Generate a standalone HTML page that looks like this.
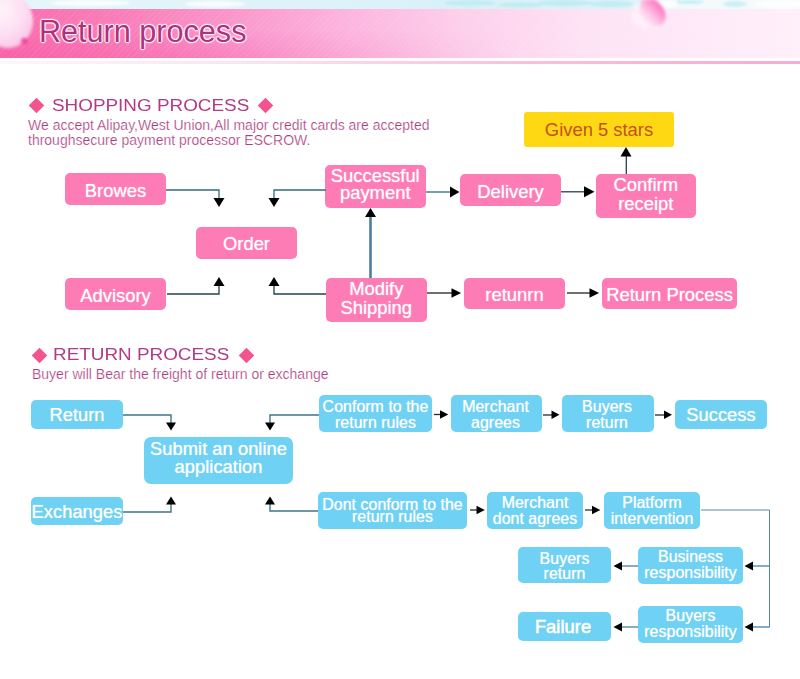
<!DOCTYPE html>
<html><head><meta charset="utf-8">
<style>
html,body{margin:0;padding:0;background:#fff;}
body{width:800px;height:679px;position:relative;overflow:hidden;font-family:"Liberation Sans",sans-serif;}
.abs{position:absolute;}
#top{left:0;top:0;width:800px;height:10px;background:linear-gradient(90deg,#e6f5fa 0%,#def3f9 35%,#d8f1f8 55%,#dcf3f8 78%,#f2fafc 86%,#f6fbfd 100%);}
#band{left:0;top:9px;width:800px;height:49px;background:linear-gradient(90deg,#f96cae 0%,#f97cb8 14%,#fa92c8 27%,#fcb2dd 42%,#fdd0ec 58%,#fee3f5 74%,#feeaf8 88%,#fff0fa 100%);}
#band2{left:0;top:30px;width:800px;height:28px;background:linear-gradient(to bottom,rgba(247,70,155,0),rgba(247,70,155,.28));-webkit-mask-image:linear-gradient(90deg,#000 0%,#000 20%,transparent 65%);mask-image:linear-gradient(90deg,#000 0%,#000 20%,transparent 65%);}
#band3{left:0;top:9px;width:800px;height:49px;background:repeating-linear-gradient(135deg,rgba(255,255,255,0) 0px,rgba(255,255,255,0) 3px,rgba(255,255,255,.07) 3px,rgba(255,255,255,.07) 4px);}
#uline{left:0;top:61px;width:800px;height:2.500px;background:linear-gradient(90deg,rgba(246,176,216,.12) 0%,rgba(246,176,216,.35) 30%,rgba(246,176,216,.8) 65%,rgba(245,170,214,1) 100%);}
#title{left:39px;top:12px;font-size:30.600px;line-height:38px;color:#b0307c;white-space:nowrap;
 text-shadow:0 0 2px #fff,0 0 2px #fff,1px 0 1px #fff,-1px 0 1px #fff,0 1px 1px #fff,0 -1px 1px #fff;}
.h{font-size:16px;line-height:18px;color:#b23a86;white-space:nowrap;transform-origin:0 0;transform:scaleX(1.18);}
.p{font-size:14px;line-height:15.600px;color:#ab3c80;white-space:nowrap;-webkit-text-stroke:.220px #fff;}
.dia{width:11px;height:11px;background:#f2548f;transform:rotate(45deg);}
.b{display:flex;align-items:center;justify-content:center;text-align:center;color:#fff;border-radius:5px;white-space:nowrap;box-sizing:border-box;}
.pk{background:#fe7cb6;font-size:18.400px;line-height:19px;text-shadow:0 0 1px rgba(255,255,255,.7);padding-top:2px;}
.pk2{line-height:17px;padding-top:0;padding-bottom:4px;}
.bl{background:#6fd1f3;font-size:16px;line-height:15.400px;text-shadow:0 0 1px rgba(255,255,255,.7);padding-top:2.600px;}
.big{font-size:18.400px;line-height:17.600px;padding-top:1.500px;}
.big2{padding-top:0;padding-bottom:5px;}
.yl{background:#ffd814;color:#c4511f;font-size:18.400px;border-radius:3px;}
</style></head><body>
<div id="top" class="abs"></div>
<div id="band" class="abs"></div>
<div id="band2" class="abs"></div>
<div id="band3" class="abs"></div>
<div id="uline" class="abs"></div>
<svg class="abs" style="left:0;top:0" width="800" height="64" viewBox="0 0 800 64">
<defs>
<filter id="bl1" x="-30%" y="-30%" width="160%" height="160%"><feGaussianBlur stdDeviation="1.6"/></filter>
<filter id="bl2" x="-30%" y="-30%" width="160%" height="160%"><feGaussianBlur stdDeviation="2.2"/></filter>
<filter id="bl3" x="-30%" y="-30%" width="160%" height="160%"><feGaussianBlur stdDeviation="1"/></filter>
<radialGradient id="pg1" cx="35%" cy="30%" r="75%"><stop offset="0" stop-color="#fff4fb"/><stop offset=".6" stop-color="#fddff3"/><stop offset="1" stop-color="#fbc8e8"/></radialGradient>
<linearGradient id="pg2" x1="1" y1="0" x2="0" y2="1"><stop offset="0" stop-color="#ff6cba"/><stop offset=".3" stop-color="#ff86c8"/><stop offset=".55" stop-color="#fdbfe3"/><stop offset=".8" stop-color="#feeaf7"/><stop offset="1" stop-color="#fff4fb"/></linearGradient>
</defs>
<!-- cyan texture in top strip -->
<g filter="url(#bl3)" fill="#aee5ef" opacity=".55">
 <ellipse cx="470" cy="3" rx="26" ry="2.500"/><ellipse cx="520" cy="5" rx="22" ry="2.500"/><ellipse cx="565" cy="3" rx="28" ry="3"/>
 <ellipse cx="612" cy="4" rx="22" ry="3"/><ellipse cx="690" cy="2" rx="14" ry="2"/><ellipse cx="735" cy="4" rx="12" ry="3"/>
</g>
<g filter="url(#bl3)" fill="#fff" opacity=".8">
 <ellipse cx="90" cy="3" rx="40" ry="3"/><ellipse cx="215" cy="4" rx="30" ry="3"/><ellipse cx="780" cy="4" rx="25" ry="4"/><ellipse cx="668" cy="4" rx="10" ry="4"/>
</g>
<!-- left petal -->
<ellipse cx="8" cy="21" rx="25" ry="27" fill="url(#pg1)" filter="url(#bl1)"/>
<ellipse cx="24.500" cy="41" rx="3.500" ry="3" fill="#f23a98" filter="url(#bl1)" opacity=".9"/>
<!-- right petal -->
<ellipse cx="647" cy="15" rx="15" ry="13" fill="#fff3fa" opacity=".85" filter="url(#bl2)"/>
<path d="M642 0C638 8 638 21 651 26C661 28 668 22 665 12C663 6 658 1 653 -1Z" fill="url(#pg2)" filter="url(#bl1)"/>
</svg>
<div id="title" class="abs">Return process</div>

<!-- SHOPPING -->
<div class="abs dia" style="left:31px;top:100px"></div>
<div class="abs h" style="left:52px;top:97px">SHOPPING PROCESS</div>
<div class="abs dia" style="left:260px;top:100px"></div>
<div class="abs p" style="left:28px;top:117.500px">We accept Alipay,West Union,All major credit cards are accepted<br>throughsecure payment processor ESCROW.</div>

<div class="abs b yl" style="left:524px;top:112px;width:150px;height:35px">Given 5 stars</div>
<div class="abs b pk" style="left:65px;top:173px;width:101px;height:32px">Browes</div>
<div class="abs b pk" style="padding-top:0;left:196px;top:227px;width:101px;height:32px">Order</div>
<div class="abs b pk" style="left:65px;top:278px;width:101px;height:32px">Advisory</div>
<div class="abs b pk pk2" style="left:325px;top:165px;width:100.500px;height:42.500px">Successful<br>payment</div>
<div class="abs b pk pk2" style="line-height:18.400px;padding-bottom:3px;left:326px;top:278px;width:100.500px;height:44.300px">Modify<br>Shipping</div>
<div class="abs b pk" style="left:460px;top:174px;width:101px;height:32px">Delivery</div>
<div class="abs b pk" style="left:464px;top:278px;width:101px;height:31px">retunrn</div>
<div class="abs b pk pk2" style="line-height:19px;padding-bottom:3px;left:595.800px;top:174px;width:100px;height:43.600px">Confirm<br>receipt</div>
<div class="abs b pk" style="left:602px;top:278px;width:135px;height:31px">Return Process</div>

<!-- RETURN -->
<div class="abs dia" style="left:33.500px;top:349.500px"></div>
<div class="abs h" style="left:53px;top:346.400px">RETURN PROCESS</div>
<div class="abs dia" style="left:240.800px;top:349.500px"></div>
<div class="abs p" style="left:32px;top:366.800px">Buyer will Bear the freight of return or exchange</div>

<div class="abs b bl big" style="left:31px;top:400px;width:92px;height:29px">Return</div>
<div class="abs b bl big" style="left:31px;top:497px;width:92px;height:28px">Exchanges</div>
<div class="abs b bl big big2" style="left:144px;top:437px;width:149px;height:47px;border-radius:7px">Submit an online<br>application</div>
<div class="abs b bl" style="left:319px;top:395px;width:113px;height:37px">Conform to the<br>return rules</div>
<div class="abs b bl" style="padding-right:2px;left:451px;top:395px;width:91px;height:37px">Merchant<br>agrees</div>
<div class="abs b bl" style="padding-right:2px;left:562px;top:395px;width:92px;height:37px">Buyers<br>return</div>
<div class="abs b bl big" style="left:675px;top:400px;width:92px;height:29px">Success</div>
<div class="abs b bl" style="padding-top:1.600px;line-height:12px;left:318px;top:492.400px;width:149px;height:36.400px">Dont conform to the<br>return rules</div>
<div class="abs b bl" style="padding-top:0;left:487px;top:492px;width:96px;height:37px">Merchant<br>dont agrees</div>
<div class="abs b bl" style="padding-top:0;left:604px;top:492px;width:96px;height:37px">Platform<br>intervention</div>
<div class="abs b bl" style="padding-top:2px;left:518px;top:547px;width:93px;height:36px">Buyers<br>return</div>
<div class="abs b bl" style="padding-top:0;padding-bottom:1.400px;left:638px;top:547px;width:105px;height:36.500px">Business<br>responsibility</div>
<div class="abs b bl big" style="padding-right:3px;-webkit-text-stroke:.350px #fff;left:518px;top:612px;width:93px;height:29px">Failure</div>
<div class="abs b bl" style="padding-top:0;padding-bottom:1.400px;left:638px;top:606px;width:105px;height:36.500px">Buyers<br>responsibility</div>

<svg class="abs" style="left:0;top:0" width="800" height="679" viewBox="0 0 800 679">
<!-- pink section thin lines -->
<g fill="none" stroke="#336b7e" stroke-width="1.300">
 <path d="M166 190H219V199"/>
 <path d="M326 190H274V199"/>
 <path d="M426 192H451"/>
</g>
<g fill="none" stroke="#23414f" stroke-width="1.300">
 <path d="M167 294H219V285"/>
 <path d="M326 294H274V285"/>
 <path d="M561 191.800H585"/>
 <path d="M626.300 174V156"/>
</g>
<g fill="none" stroke="#222" stroke-width="1.3">
 <path d="M427 293H453"/>
 <path d="M567 293H591"/>
</g>
<path d="M370.500 278V216" stroke="#4b7f9e" stroke-width="2.600" fill="none"/>
<g fill="#000">
 <path d="M213.500 198h11l-5.500 9z"/>
 <path d="M268.500 198h11l-5.500 9z"/>
 <path d="M213.500 286h11l-5.500 -9z"/>
 <path d="M268.500 286h11l-5.500 -9z"/>
 <path d="M365 217h11l-5.500 -9z"/>
 <path d="M450 186.500v11l9.500 -5.500z"/>
 <path d="M584 186.300v11l10.500 -5.500z"/>
 <path d="M620.500 156.500h11l-5.500 -9.500z"/>
 <path d="M451.500 288.200v9.600l9.600 -4.800z"/>
 <path d="M589.500 288.200v9.600l9.600 -4.800z"/>
</g>
<!-- blue section -->
<g fill="none" stroke="#3f7688" stroke-width="1.400">
 <path d="M123 415H171V423"/>
 <path d="M319 415H270V423"/>
 <path d="M123 512H171V504"/>
 <path d="M318 511H270V504"/>
</g>
<g fill="none" stroke="#1e2e3a" stroke-width="1.300">
 <path d="M434 414.500H440"/>
 <path d="M543 415H553"/>
 <path d="M655 415H665"/>
 <path d="M470 510H477"/>
 <path d="M585 510H592.500"/>
</g>
<g fill="none" stroke="#5688ad" stroke-width="1.400">
 <path d="M769 566H752"/>
 <path d="M769 627H752"/>
 <path d="M638 566H621"/>
 <path d="M638 627H621"/>
</g>
<path d="M701 510H769.500V627.500" fill="none" stroke="#5688ad" stroke-width="1"/>
<g fill="#000">
 <path d="M166 422.500h10l-5 8z"/>
 <path d="M265 422.500h10l-5 8z"/>
 <path d="M166 504.500h10l-5 -8z"/>
 <path d="M265 504.500h10l-5 -8z"/>
 <path d="M440 410.300v8.400l8.300 -4.200z"/>
 <path d="M551.500 410.500v8.400l8 -4.200z"/>
 <path d="M664 410.500v8.400l8 -4.200z"/>
 <path d="M476.500 505.800v8.400l8.300 -4.200z"/>
 <path d="M592 505.800v8.400l8.300 -4.200z"/>
 <path d="M753 561.500v9l-8.500 -4.500z"/>
 <path d="M753 622.500v9l-8.500 -4.500z"/>
 <path d="M622 561.500v9l-8.500 -4.500z"/>
 <path d="M622 622.500v9l-8.500 -4.500z"/>
</g>
</svg>
</body></html>
